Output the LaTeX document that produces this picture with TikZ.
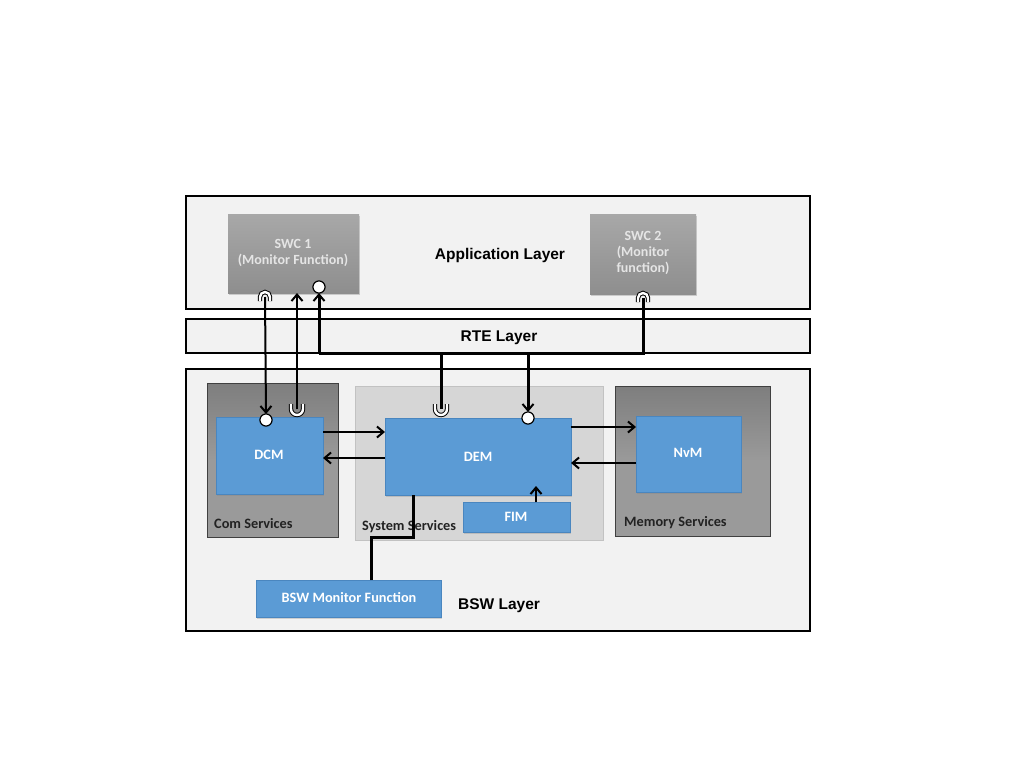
\documentclass[tikz,border=0pt]{standalone}
\usepackage{fontspec}
\setmainfont{Carlito}
\newfontfamily\arialf{Liberation Sans}
\usetikzlibrary{arrows.meta,shadows}
\definecolor{panelbg}{HTML}{F2F2F2}
\definecolor{bluebox}{HTML}{5B9BD5}
\definecolor{blueedge}{HTML}{4A86BF}
\definecolor{sysbg}{HTML}{D6D6D6}
\definecolor{sysedge}{HTML}{C2C2C2}
\definecolor{darkgray1}{HTML}{7E7E7E}
\definecolor{darkgray2}{HTML}{9A9A9A}
\definecolor{swctop}{HTML}{A8A8A8}
\definecolor{swcbot}{HTML}{8E8E8E}
\definecolor{labeltxt}{HTML}{222222}
\tikzset{
  panel/.style={draw=black, line width=1.6pt, fill=panelbg, inner sep=0pt, outer sep=0pt, anchor=north west},
  swcbox/.style={top color=swctop, bottom color=swcbot, draw=none, inner sep=0pt, outer sep=0pt, anchor=north west,
    drop shadow={shadow xshift=1pt, shadow yshift=-1.5pt, opacity=0.35}},
  grpbox/.style={top color=darkgray1, bottom color=darkgray2, middle color=darkgray2, draw=black!75, line width=0.9pt, inner sep=0pt, outer sep=0pt, anchor=north west},
  sysbox/.style={fill=sysbg, draw=sysedge, line width=0.9pt, inner sep=0pt, outer sep=0pt, anchor=north west},
  bluenode/.style={fill=bluebox, draw=blueedge, line width=0.7pt, inner sep=0pt, outer sep=0pt, anchor=north west,
    drop shadow={shadow xshift=1pt, shadow yshift=-1.5pt, opacity=0.3}},
  bluetxt/.style={text=white, font=\fontsize{14.3}{16}\selectfont\bfseries},
  swctxt/.style={text=white!90!black, font=\fontsize{14}{16}\selectfont\bfseries, align=center},
  grplabel/.style={text=labeltxt, font=\fontsize{14.3}{16}\selectfont\bfseries, anchor=west, inner sep=0pt},
  layerlabel/.style={text=black, font=\arialf\fontsize{15.5}{17}\selectfont\bfseries, inner sep=0pt},
  ball/.style={circle, draw=black, fill=white, line width=1pt, minimum size=12pt, inner sep=0pt, outer sep=0pt},
  thick line/.style={line width=2pt},
  bus line/.style={line width=3pt},
  arr/.style={-{Straight Barb[length=6.5pt,width=11pt,line width=2pt]}},
  sock/.style={draw=black, line width=1pt, double=white, double distance=2.4pt},
}
\begin{document}
\begin{tikzpicture}[x=1pt,y=-1pt]
\useasboundingbox (0,0) rectangle (1024,768);
\fill[white] (0,0) rectangle (1024,768);

% layers
\node[panel, minimum width=624pt, minimum height=113pt] (app) at (186,196) {};
\node[panel, minimum width=624pt, minimum height=34pt] (rte) at (186,319) {};
\node[panel, minimum width=624pt, minimum height=262pt] (bsw) at (186,369) {};

\node[layerlabel] (applbl) at (500,255) {Application Layer};
\node[layerlabel] (rtelbl) at (499,338) {RTE Layer};
\node[layerlabel] (bswlbl) at (499,606) {BSW Layer};

% SWCs
\node[swcbox, minimum width=131pt, minimum height=79pt] (swc1) at (228,214) {};
\node[swctxt] (swc1t) at (293,253) {SWC 1\\(Monitor Function)};
\node[swcbox, minimum width=106pt, minimum height=80pt] (swc2) at (590,214) {};
\node[swctxt] (swc2t) at (643,253) {SWC 2\\(Monitor\\function)};

% groups
\node[grpbox, minimum width=131pt, minimum height=154pt] (com) at (207,383) {};
\node[grplabel] (comlbl) at (214,524) {Com Services};
\node[sysbox, minimum width=248pt, minimum height=154pt] (sys) at (355,386) {};
\node[grplabel] (syslbl) at (362,527) {System Services};
\node[grpbox, minimum width=155pt, minimum height=150pt] (mem) at (615,386) {};
\node[grplabel] (memlbl) at (624,523) {Memory Services};

% blue boxes
\node[bluenode, minimum width=107pt, minimum height=77pt] (dcm) at (216,417) {};
\node[bluetxt] (dcmt) at (269,455) {DCM};
\node[bluenode, minimum width=186pt, minimum height=77pt] (dem) at (385,418) {};
\node[bluetxt] (demt) at (478,457) {DEM};
\node[bluenode, minimum width=107pt, minimum height=30pt] (fim) at (463,502) {};
\node[bluetxt] (fimt) at (516,517) {FIM};
\node[bluenode, minimum width=105pt, minimum height=76pt] (nvm) at (636,416) {};
\node[bluetxt] (nvmt) at (688,453) {NvM};
\node[bluenode, minimum width=185pt, minimum height=37pt] (bswmf) at (256,580) {};
\node[bluetxt] (bswmft) at (349,598) {BSW Monitor Function};

% balls
\node[ball] (b1) at (319,287) {};
\node[ball] (b2) at (266,420) {};
\node[ball] (b3) at (528,418) {};

% coordinates for sockets / bus
\coordinate (s1) at (265,297);
\coordinate (c1) at (297,409);
\coordinate (c2) at (441,409);
\coordinate (s2) at (643,298);
\coordinate (busL) at (319,353);
\coordinate (busR) at (643,353);
\coordinate (j1) at (441,353);
\coordinate (j2) at (528,353);

% DCM <-> SWC1 lines
\draw[thick line, arr] (s1) -- (b2.north);
\draw[thick line, arr] (c1) -- (swc1.south -| c1);

% bus
\draw[bus line, arr] (busL) -- (b1.south);
\draw[bus line] (busL) -- (busR) -- (s2);
\draw[bus line] (j1) -- (c2);
\draw[bus line, arr] (j2) -- (b3.north);

% sockets (arches at SWC bottoms, cups at DCM/DEM tops)
\draw[sock] (s1) ++(-5,4) -- ++(0,-4) arc(180:360:5) -- ++(0,4);
\draw[sock] (s2) ++(-5,4) -- ++(0,-4) arc(180:360:5) -- ++(0,4);
\draw[sock] (c1) ++(-6,-5) -- ++(0,5) arc(180:0:6) -- ++(0,-5);
\draw[sock] (c2) ++(-6,-5) -- ++(0,5) arc(180:0:6) -- ++(0,-5);
\draw[thick line] (s1) -- ++(0,4);
\draw[bus line] (s2) -- ++(0,4);
\draw[thick line] (c1) -- ++(0,-4);
\draw[bus line] (c2) -- ++(0,-4);
\node[ball] at (b1) {};
\node[ball] at (b2) {};
\node[ball] at (b3) {};

% horizontal arrows
\draw[thick line, arr] (dcm.east |- 0,432) -- (dem.west |- 0,432);
\draw[thick line, arr] (dem.west |- 0,458) -- (dcm.east |- 0,458);
\draw[thick line, arr] (dem.east |- 0,427) -- (nvm.west |- 0,427);
\draw[thick line, arr] (nvm.west |- 0,463) -- (dem.east |- 0,463);
\draw[thick line, arr] (fim.north -| 536,0) -- (536,486);

% BSW monitor to DEM
\draw[bus line] (bswmf.north -| 371,0) -- (371,537) -- (413,537) -- (dem.south -| 413,0);
\end{tikzpicture}
\end{document}
